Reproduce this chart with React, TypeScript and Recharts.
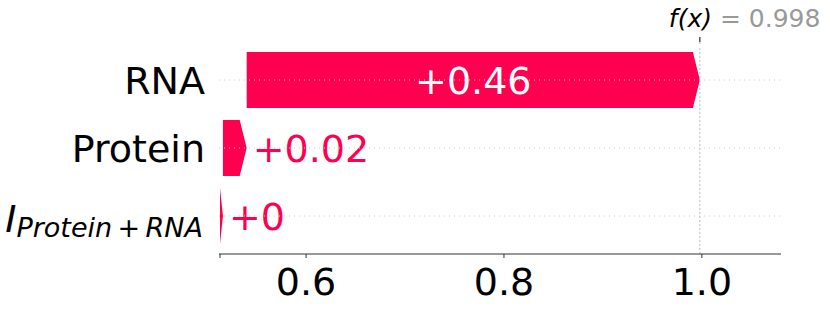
import React from "react";
import {
    BarChart,
    Bar,
    XAxis,
    YAxis,
    ReferenceLine,
} from "recharts";

// rows top to bottom
const features = ["RNA", "Protein", "I"];
const contributions = [0.458, 0.024, 0.003];
const valueLabels = ["+0.46", "+0.02", "+0"];
const baseValue = 0.513;
const fx = 0.998;
const xTicks = [baseValue, 0.6, 0.8, 1.0];
const xTickLabels = ["", "0.6", "0.8", "1.0"];

const PINK = "#ff0051";
const FONT = "DejaVu Sans, sans-serif";

// cumulative start of each bar, waterfall built from the bottom row up
const starts: number[] = [];
{
    let acc = baseValue;
    for (let i = features.length - 1; i >= 0; i--) {
        starts[i] = acc;
        acc += contributions[i];
    }
}

const data = features.map((f, i) => ({
    feature: f,
    range: [starts[i], starts[i] + contributions[i]],
    label: valueLabels[i],
    inside: i === 0,
}));

const ArrowBar = (props: any) => {
    const { x, y, width, height, payload } = props;
    const head = Math.min(7, width);
    const cy = y + height / 2;
    const pts = [
        [x, y],
        [x + width - head, y],
        [x + width, cy],
        [x + width - head, y + height],
        [x, y + height],
    ]
        .map((p) => p.join(","))
        .join(" ");
    return (
        <g>
            <polygon points={pts} fill={PINK} />
            {payload.inside ? (
                <text x={x + width / 2} y={cy + 14} textAnchor="middle" fill="#fff" fontSize={38} fontFamily={FONT}>
                    {payload.label}
                </text>
            ) : (
                <text x={x + width + 6} y={cy + 14} textAnchor="start" fill={PINK} fontSize={38} fontFamily={FONT}>
                    {payload.label}
                </text>
            )}
        </g>
    );
};

const FeatureTick = (props: any) => {
    const { y, payload } = props;
    if (payload.value === "I") {
        return (
            <text x={203} y={y + 16} textAnchor="end" fill="#000" fontFamily={FONT} fontStyle="italic">
                <tspan fontSize={38}>I</tspan>
                <tspan fontSize={27} dy={5}>{"Protein\u2009+\u2009RNA"}</tspan>
            </text>
        );
    }
    return (
        <text x={205} y={y + 14} textAnchor="end" fill="#000" fontSize={38} fontFamily={FONT}>
            {payload.value}
        </text>
    );
};

const ValueTick = (props: any) => {
    const { x, payload } = props;
    const idx = xTicks.indexOf(payload.value);
    const label = idx >= 0 ? xTickLabels[idx] : "";
    if (!label) return <g />;
    return (
        <text x={x} y={295} textAnchor="middle" fill="#000" fontSize={38} fontFamily={FONT}>
            {label}
        </text>
    );
};

const FxLabel = (props: any) => {
    const vb = props.viewBox || {};
    const lx = vb.x;
    return (
        <g>
            <line x1={lx} x2={lx} y1={42} y2={vb.y} stroke="#bbb" strokeDasharray="2 2" />
            <line x1={lx} x2={lx} y1={37} y2={42} stroke="#000" />
            <text x={lx - 31} y={27} fontSize={25} fontFamily={FONT}>
                <tspan fill="#000" fontStyle="italic">f(x)</tspan>
                <tspan fill="#999"> = {fx.toFixed(3)}</tspan>
            </text>
        </g>
    );
};

export default function App() {
    return (
        <div style={{ position: "absolute", left: 0, top: 0, background: "#fff" }}>
            <BarChart
                width={830}
                height={309}
                data={data}
                layout="vertical"
                margin={{ top: 46, right: 49, bottom: 0, left: 0 }}
                barCategoryGap={0}
            >
                <XAxis
                    type="number"
                    domain={[0.512, 1.08]}
                    allowDataOverflow
                    ticks={xTicks}
                    tick={<ValueTick />}
                    height={55}
                    stroke="#333"
                    tickSize={4}
                    interval={0}
                />
                <YAxis
                    type="category"
                    dataKey="feature"
                    width={219}
                    axisLine={false}
                    tickLine={false}
                    tick={<FeatureTick />}
                    padding={{ top: 0, bottom: 4 }}
                />
                {features.map((f) => (
                    <ReferenceLine key={f} y={f} stroke="#ccc" strokeDasharray="1 4" />
                ))}
                <ReferenceLine x={fx} stroke="#bbb" strokeDasharray="2 2" label={<FxLabel />} />
                <Bar dataKey="range" barSize={56} shape={<ArrowBar />} isAnimationActive={false} />
            </BarChart>
        </div>
    );
}
